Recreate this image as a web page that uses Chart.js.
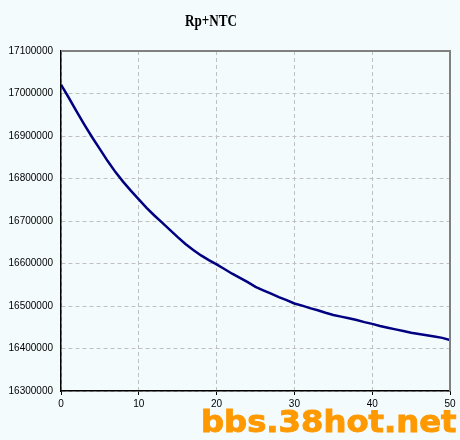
<!DOCTYPE html>
<html>
<head>
  <title>Rp+NTC</title>
  <script src="https://cdn.jsdelivr.net/npm/chart.js"></script>
  <style>
    body {
      margin: 0;
      background: #f3fbfd;
    }
    .wrap {
      position: relative;
      width: 460px;
      height: 440px;
    }
    .mark {
      position: absolute;
      left: 201px;
      top: 406px;
      font: bold 31px "DejaVu Sans", sans-serif;
      line-height: 1;
      color: #ff9900;
      -webkit-text-stroke: 1px #ff9900;
      transform: scaleX(1.04);
      transform-origin: left top;
      white-space: nowrap;
    }
  </style>
</head>
<body>
  <div class="wrap">
    <canvas id="chartNtc" width="460" height="440"></canvas>
    <div class="mark">bbs.38hot.net</div>
  </div>
  <script>
    const title = 'Rp+NTC';
    const xValues = [0, 1, 2, 3, 4, 5, 6, 7, 8, 9, 10, 11, 12, 13, 14, 15, 16, 17, 18, 19, 20,
      21, 22, 23, 24, 25, 26, 27, 28, 29, 30, 31, 32, 33, 34, 35, 36, 37, 38, 39, 40,
      41, 42, 43, 44, 45, 46, 47, 48, 49, 50];
    const resistance = [17021000, 16990000, 16958000, 16927000, 16897000, 16869000, 16841000,
      16815000, 16792000, 16771000, 16751000, 16731000, 16713000, 16696000, 16679000,
      16662000, 16646000, 16632000, 16619000, 16608000, 16598000, 16587000, 16576000,
      16566000, 16556000, 16545000, 16537000, 16529000, 16521000, 16514000, 16506000,
      16501000, 16495000, 16490000, 16484000, 16479000, 16475000, 16471000, 16467000,
      16462000, 16458000, 16453000, 16449000, 16445000, 16441000, 16437000, 16434000,
      16431000, 16428000, 16425000, 16420000];
    const yMin = 16300000;
    const yMax = 17100000;
    const yStep = 100000;
    const xMin = 0;
    const xMax = 50;
    const xStep = 10;

    // title and the grey top/right frame
    const frame = {
      id: 'frame',
      afterDraw(chart) {
        const ctx = chart.ctx;
        const a = chart.chartArea;
        ctx.save();
        ctx.strokeStyle = '#808080';
        ctx.lineWidth = 2;
        ctx.beginPath();
        ctx.moveTo(a.left, a.top);
        ctx.lineTo(a.right, a.top);
        ctx.lineTo(a.right, a.bottom);
        ctx.stroke();

        ctx.translate(211, 26);
        ctx.scale(0.82, 1);
        ctx.fillStyle = '#000';
        ctx.font = 'bold 16px "Liberation Serif", serif';
        ctx.textAlign = 'center';
        ctx.textBaseline = 'alphabetic';
        ctx.fillText(title, 0, 0);
        ctx.restore();
      }
    };

    const points = xValues.map((x, i) => ({ x: x, y: resistance[i] }));

    new Chart(document.getElementById('chartNtc').getContext('2d'), {
      type: 'line',
      data: {
        datasets: [{
          data: points,
          borderColor: '#000080',
          borderWidth: 2.5,
          pointRadius: 0,
          tension: 0,
          fill: false
        }]
      },
      options: {
        responsive: false,
        animation: false,
        layout: { padding: { top: 51, right: 10, left: 0, bottom: 0 } },
        plugins: {
          legend: { display: false },
          tooltip: { enabled: false }
        },
        scales: {
          x: {
            type: 'linear',
            min: xMin,
            max: xMax,
            afterFit: s => { s.height = 49; },
            ticks: {
              stepSize: xStep,
              padding: 3,
              color: '#000',
              font: { family: '"Liberation Sans", Arial, sans-serif', size: 10 }
            },
            grid: {
              color: '#c0c0c0',
              tickColor: '#000',
              tickLength: 4
            },
            border: { color: '#000', width: 1.5, dash: [4, 3] }
          },
          y: {
            min: yMin,
            max: yMax,
            afterFit: s => { s.width = 61; },
            ticks: {
              stepSize: yStep,
              padding: 8,
              color: '#000',
              font: { family: '"Liberation Sans", Arial, sans-serif', size: 10 },
              callback: v => String(v)
            },
            grid: {
              color: '#c0c0c0',
              drawTicks: false
            },
            border: { color: '#000', width: 1.5, dash: [4, 3] }
          }
        }
      },
      plugins: [frame]
    });
  </script>
</body>
</html>
